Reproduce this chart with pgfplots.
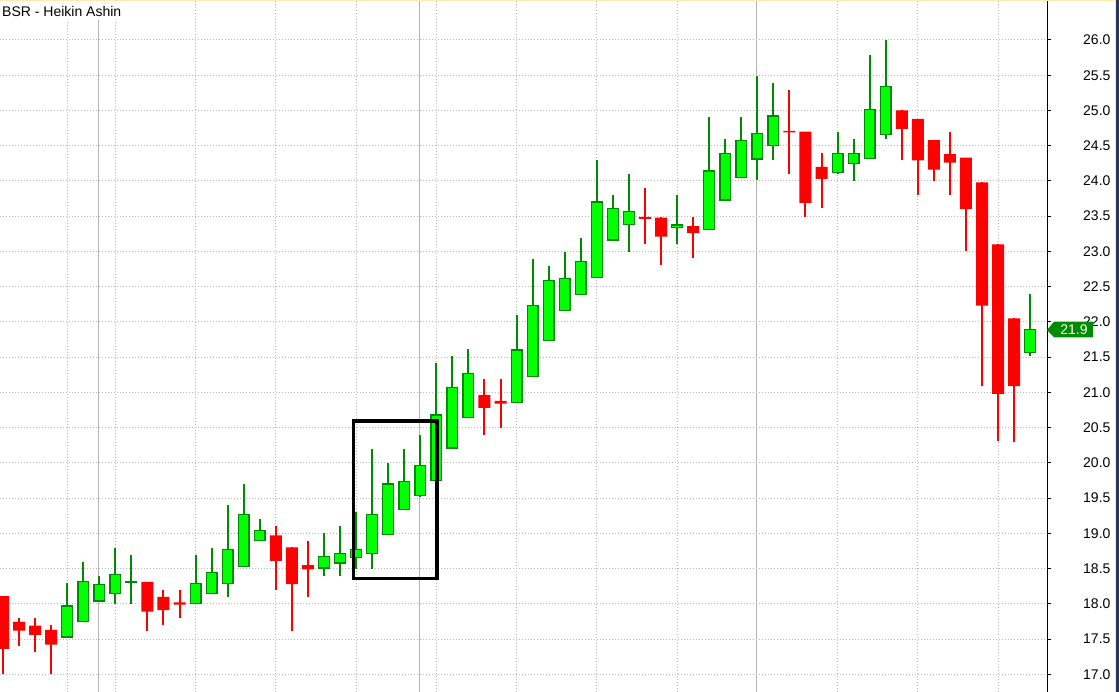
\documentclass[border=0pt]{standalone}
\usepackage{fontspec}
\setmainfont{Liberation Sans}
\usepackage{pgfplots}
\pgfplotsset{compat=1.18}
\usepackage{pgfplotstable}

\definecolor{hagreen}{RGB}{0,255,0}
\definecolor{hadark}{RGB}{0,140,0}
\definecolor{hared}{RGB}{255,0,0}
\definecolor{gridc}{RGB}{185,185,185}
\definecolor{solidc}{RGB}{180,180,180}
\definecolor{navy}{RGB}{40,55,85}
\definecolor{paleyel}{RGB}{255,236,170}

% x = candle index, lo = low, bot/top = body, hi = high
\pgfplotstableread{
x lo bot top hi
4 17.53 17.53 17.97 18.30
5 17.75 17.75 18.32 18.60
6 18.04 18.04 18.27 18.40
7 18.00 18.15 18.42 18.79
8 18.00 18.30 18.32 18.69
12 18.00 18.00 18.29 18.69
13 18.15 18.15 18.44 18.79
14 18.10 18.29 18.77 19.40
15 18.53 18.53 19.27 19.70
16 18.90 18.90 19.04 19.20
20 18.40 18.51 18.67 19.00
21 18.40 18.58 18.71 19.10
22 18.50 18.66 18.77 19.30
23 18.50 18.71 19.27 20.20
24 18.98 18.98 19.70 20.00
25 19.34 19.34 19.74 20.20
26 19.51 19.54 19.965 20.40
27 19.75 19.75 20.68 21.41
28 20.21 20.21 21.07 21.51
29 20.64 20.64 21.27 21.61
32 20.86 20.86 21.60 22.10
33 21.23 21.23 22.23 22.89
34 21.74 21.74 22.59 22.79
35 22.16 22.16 22.62 22.99
36 22.39 22.39 22.86 23.19
37 22.63 22.63 23.70 24.30
38 23.16 23.16 23.61 23.80
39 22.99 23.38 23.57 24.10
42 23.10 23.34 23.375 23.80
44 23.31 23.31 24.14 24.90
45 23.73 23.73 24.39 24.60
46 24.05 24.05 24.57 24.90
47 24.01 24.31 24.67 25.49
48 24.30 24.50 24.92 25.39
52 24.10 24.12 24.39 24.70
53 24.00 24.25 24.39 24.60
54 24.32 24.32 25.01 25.79
55 24.60 24.66 25.34 26.00
64 21.51 21.57 21.89 22.39
}\greendata

\pgfplotstableread{
x lo bot top hi
0 17.00 17.36 18.11 18.11
1 17.40 17.62 17.745 17.80
2 17.31 17.56 17.69 17.80
3 17.00 17.42 17.63 17.70
9 17.61 17.89 18.31 18.31
10 17.70 17.91 18.10 18.20
11 17.80 17.99 18.02 18.20
17 18.20 18.61 18.97 19.10
18 17.61 18.28 18.80 18.80
19 18.10 18.49 18.55 18.89
30 20.40 20.78 20.96 21.19
31 20.49 20.84 20.88 21.19
40 23.10 23.46 23.49 23.90
41 22.80 23.21 23.48 23.49
43 22.90 23.26 23.36 23.49
49 24.10 24.69 24.71 25.29
50 23.49 23.69 24.70 24.70
51 23.61 24.03 24.20 24.40
56 24.30 24.74 25.00 25.00
57 23.80 24.29 24.88 24.88
58 24.00 24.16 24.58 24.58
59 23.80 24.26 24.38 24.70
60 23.00 23.60 24.33 24.33
61 21.09 22.23 23.98 23.98
62 20.31 20.98 23.10 23.10
63 20.30 21.09 22.05 22.05
}\reddata

\pgfplotsset{
  hacommon/.style={
    scale only axis, width=1047pt, height=692pt,
    at={(0pt,0pt)}, anchor=south west,
    xmin=-0.187, xmax=65.05, ymin=16.749, ymax=26.567,
    enlargelimits=false,
  }
}

\begin{document}
\begin{tikzpicture}
\useasboundingbox (0pt,0pt) rectangle (1119pt,692pt);
\fill[white] (0pt,0pt) rectangle (1119pt,692pt);

% main axis: grid, ticks, wicks
\begin{axis}[hacommon, clip=false,
  axis line style={draw=none},
  xtick={4,7,12,17,22,27,32,37,42,52,57,62},
  xticklabels={},
  xtick style={draw=none},
  xmajorgrids, ymajorgrids,
  grid style={color=gridc, line width=1pt, dash pattern=on 1pt off 2pt},
  extra x ticks={5.94,25.94,46.96},
  extra x tick labels={},
  extra x tick style={grid=major, major grid style={solid, color=solidc, line width=1pt}, tick style={draw=none}},
  ytick={17,17.5,...,26},
  ytick pos=right, yticklabel pos=right,
  tick align=outside, major tick length=4pt,
  ytick style={black, line width=1pt},
  yticklabel style={anchor=west, inner sep=0pt, xshift=32pt,
    font=\fontsize{14}{16}\selectfont,
    /pgf/number format/.cd, fixed, fixed zerofill, precision=1, assume math mode=true},
]
\addplot[draw=none, mark=none,
  error bars/.cd, y dir=plus, y explicit, error mark=none,
  error bar style={draw=hadark, solid, line width=2pt}]
  table[x=x, y=lo, y error plus expr=\thisrow{hi}-\thisrow{lo}] {\greendata};
\addplot[draw=none, mark=none,
  error bars/.cd, y dir=plus, y explicit, error mark=none,
  error bar style={draw=hared, solid, line width=2pt}]
  table[x=x, y=lo, y error plus expr=\thisrow{hi}-\thisrow{lo}] {\reddata};
\draw[black, line width=1pt] (rel axis cs:1,0) -- (rel axis cs:1,1);
\end{axis}

% green bodies
\begin{axis}[hacommon, hide axis, ybar stacked, bar width=10.7pt]
\addplot[draw=none, fill=none] table[x=x, y=bot] {\greendata};
\addplot[fill=hagreen, draw=hadark, line width=1.3pt]
  table[x=x, y expr=\thisrow{top}-\thisrow{bot}] {\greendata};
\end{axis}

% red bodies and highlight box
\begin{axis}[hacommon, hide axis, ybar stacked, bar width=12pt]
\addplot[draw=none, fill=none] table[x=x, y=bot] {\reddata};
\addplot[fill=hared, draw=none]
  table[x=x, y expr=\thisrow{top}-\thisrow{bot}] {\reddata};
\draw[black, line width=3.6pt] (axis cs:21.85,18.361) rectangle (axis cs:27.04,20.596);
\end{axis}

% title
\fill[white] (0pt,672pt) rectangle (130pt,692pt);
\node[anchor=base west, inner sep=0pt, font=\fontsize{14}{16}\selectfont] at (2pt,675.3pt) {BSR - Heikin Ashin};

% last price tag
\fill[hadark] (1047pt,362pt) -- (1054pt,370.3pt) -- (1093pt,370.3pt) -- (1093pt,354.7pt) -- (1054pt,354.7pt) -- cycle;
\node[white, inner sep=0pt, font=\fontsize{14}{16}\selectfont] at (1074pt,362pt) {21.9};

% frame strips
\fill[paleyel] (0pt,691pt) rectangle (1116pt,692pt);
\fill[paleyel] (1114.5pt,0pt) rectangle (1116pt,692pt);
\fill[navy] (1116pt,0pt) rectangle (1119pt,692pt);
\end{tikzpicture}
\end{document}
